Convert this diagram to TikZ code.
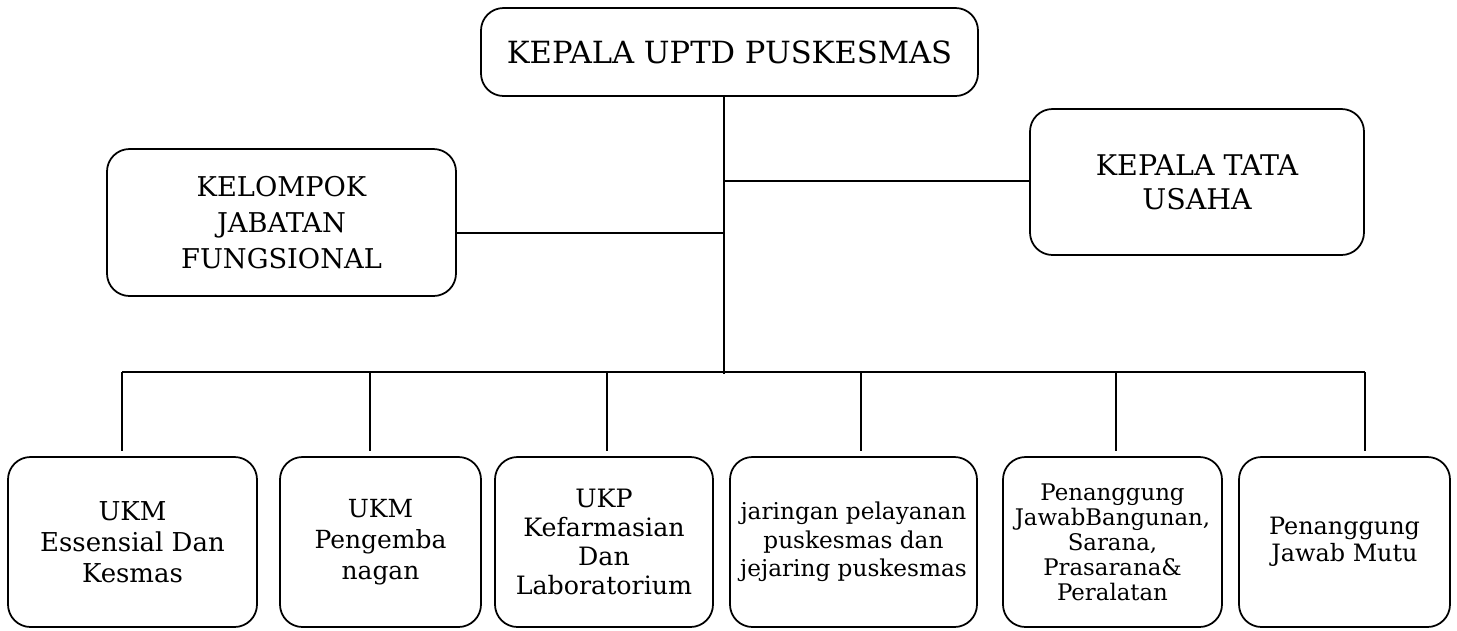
\documentclass[tikz,border=0pt]{standalone}
\usepackage{fontspec}
\setmainfont{DejaVu Serif}
\begin{document}
\begin{tikzpicture}[
  box/.style={draw, line width=1pt, rounded corners=0.45cm, align=center, inner sep=2pt},
  fs/.style 2 args={font=\fontsize{#1}{#2}\selectfont},
  conn/.style={line width=1pt}
]
\useasboundingbox (0,0) rectangle (29.14,-12.6);
\node[box, fs={17.4}{21}, minimum width=9.94cm, minimum height=1.76cm] (top) at (14.59,-1.04) {KEPALA UPTD PUSKESMAS};
\node[box, fs={15.5}{20.5}, minimum width=6.98cm, minimum height=2.94cm] (kjf) at (5.63,-4.45) {KELOMPOK\\JABATAN\\FUNGSIONAL};
\node[box, fs={16.2}{19.5}, minimum width=6.68cm, minimum height=2.92cm] (ktu) at (23.94,-3.64) {KEPALA TATA\\USAHA};

\node[box, fs={14.8}{17.6}, minimum width=4.98cm, minimum height=3.4cm] (b1) at (2.65,-10.84) {UKM\\Essensial Dan\\Kesmas};
\node[box, fs={14.2}{17.6}, minimum width=4.02cm, minimum height=3.4cm] (b2) at (7.61,-10.84) {UKM\\Pengemba\\nagan};
\node[box, fs={14.4}{16.4}, minimum width=4.36cm, minimum height=3.4cm] (b3) at (12.08,-10.84) {UKP\\Kefarmasian\\Dan\\Laboratorium};
\node[box, fs={13.2}{16.2}, minimum width=4.94cm, minimum height=3.4cm] (b4) at (17.07,-10.84) {jaringan pelayanan\\puskesmas dan\\jejaring puskesmas};
\node[box, fs={13.0}{14.2}, minimum width=4.38cm, minimum height=3.4cm] (b5) at (22.25,-10.84) {Penanggung\\JawabBangunan,\\Sarana,\\Prasarana\&\\Peralatan};
\node[box, fs={13.6}{15.6}, minimum width=4.22cm, minimum height=3.4cm] (b6) at (26.89,-10.84) {Penanggung\\Jawab Mutu};

\coordinate (trunkTop) at (14.48,-1.92);
\coordinate (trunkBot) at (14.48,-7.48);
\coordinate (ktuJ) at (14.48,-3.62);
\coordinate (kjfJ) at (14.48,-4.66);
\coordinate (barL) at (2.44,-7.44);
\coordinate (barR) at (27.30,-7.44);
\coordinate (d2) at (7.40,-7.44);
\coordinate (d3) at (12.14,-7.44);
\coordinate (d4) at (17.22,-7.44);
\coordinate (d5) at (22.32,-7.44);

\draw[conn] (top.south -| trunkTop) -- (trunkBot);
\draw[conn] (ktuJ) -- (ktuJ -| ktu.west);
\draw[conn] (kjfJ) -- (kjfJ -| kjf.east);
\draw[conn] (barL) -- (barR);
\draw[conn, shorten >=0.1cm] (barL) -- (barL |- b1.north);
\draw[conn, shorten >=0.1cm] (d2) -- (d2 |- b2.north);
\draw[conn, shorten >=0.1cm] (d3) -- (d3 |- b3.north);
\draw[conn, shorten >=0.1cm] (d4) -- (d4 |- b4.north);
\draw[conn, shorten >=0.1cm] (d5) -- (d5 |- b5.north);
\draw[conn, shorten >=0.1cm] (barR) -- (barR |- b6.north);
\end{tikzpicture}
\end{document}
